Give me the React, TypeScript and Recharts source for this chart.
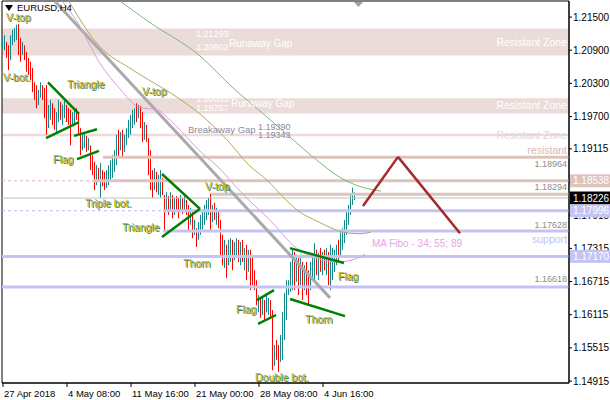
import {
  ComposedChart,
  Bar,
  Line,
  XAxis,
  YAxis,
  ReferenceArea,
  ReferenceLine,
  ReferenceDot,
} from "recharts";

// EURUSD H4 candles: one entry per bar, oldest first
const highs = [
  1.2112, 1.2117, 1.2105, 1.2099, 1.2117, 1.2127, 1.213, 1.2136, 1.2137, 1.2112,
  1.2105, 1.2099, 1.2087, 1.2076, 1.2069, 1.2058, 1.2032, 1.2027, 1.2018, 1.2032,
  1.2027, 1.2022, 1.2027, 1.1991, 1.2, 1.1994, 1.1985, 1.1978, 1.2, 1.1996,
  1.1991, 1.2, 1.1991, 1.1985, 1.1982, 1.1978, 1.1982, 1.1985, 1.1978, 1.1949,
  1.1937, 1.1942, 1.1935, 1.1931, 1.1918, 1.19, 1.1888, 1.1882, 1.1877, 1.1886,
  1.1873, 1.187, 1.1873, 1.1882, 1.1891, 1.19, 1.1909, 1.1937, 1.1946, 1.1942,
  1.1946, 1.1937, 1.1949, 1.1964, 1.1973, 1.1982, 1.1985, 1.1994, 1.1991, 1.1989,
  1.1978, 1.196, 1.1955, 1.1931, 1.1909, 1.1873, 1.1877, 1.187, 1.1864, 1.1873,
  1.1859, 1.1828, 1.1833, 1.1826, 1.1833, 1.1828, 1.1823, 1.1826, 1.1823, 1.1828,
  1.1823, 1.1826, 1.1819, 1.181, 1.1805, 1.1797, 1.1783, 1.1768, 1.1779, 1.1792,
  1.1801, 1.181, 1.1819, 1.1823, 1.183, 1.181, 1.1814, 1.1805, 1.1801, 1.1783,
  1.1756, 1.1747, 1.1738, 1.1747, 1.175, 1.1747, 1.1743, 1.175, 1.1747, 1.1743,
  1.1747, 1.1732, 1.1738, 1.1729, 1.1729, 1.1714, 1.1692, 1.1674, 1.1647, 1.1642,
  1.1645, 1.1638, 1.1647, 1.1642, 1.1638, 1.162, 1.1557, 1.1566, 1.1557, 1.1575,
  1.1616, 1.1651, 1.1674, 1.1674, 1.1707, 1.1729, 1.1725, 1.172, 1.1714, 1.172,
  1.1707, 1.1701, 1.1707, 1.1692, 1.1707, 1.172, 1.1741, 1.1729, 1.1723, 1.1732,
  1.1725, 1.1729, 1.1732, 1.1725, 1.1738, 1.1732, 1.1729, 1.1738, 1.1747, 1.1761,
  1.1768, 1.1783, 1.1797, 1.181, 1.1828, 1.1841, 1.1833,
];
const lows = [
  1.2094, 1.209, 1.2076, 1.2054, 1.2072, 1.2099, 1.2105, 1.2108, 1.2081, 1.2069,
  1.2081, 1.2072, 1.2051, 1.2045, 1.2036, 1.2014, 1.2, 1.1985, 1.1991, 1.2004,
  1.2, 1.1967, 1.1937, 1.1949, 1.1964, 1.1955, 1.1946, 1.1942, 1.196, 1.1964,
  1.1955, 1.1967, 1.196, 1.1955, 1.1918, 1.1953, 1.1957, 1.1964, 1.194, 1.19,
  1.1909, 1.1913, 1.1906, 1.1909, 1.1873, 1.1864, 1.1837, 1.1846, 1.1852, 1.1823,
  1.1844, 1.1837, 1.1841, 1.1846, 1.1852, 1.1859, 1.187, 1.1882, 1.1895, 1.1909,
  1.1895, 1.1906, 1.1918, 1.1931, 1.1937, 1.1949, 1.1955, 1.196, 1.1967, 1.1949,
  1.1924, 1.1928, 1.1924, 1.1864, 1.1837, 1.1823, 1.1837, 1.1833, 1.1828, 1.1823,
  1.1828, 1.1761, 1.1797, 1.1792, 1.1801, 1.1786, 1.1792, 1.1797, 1.1786, 1.1801,
  1.1794, 1.1797, 1.1792, 1.1761, 1.1774, 1.175, 1.1756, 1.1734, 1.1747, 1.1756,
  1.1765, 1.1774, 1.1783, 1.1792, 1.1761, 1.1779, 1.1783, 1.1774, 1.1768, 1.172,
  1.1701, 1.1696, 1.1678, 1.1701, 1.1707, 1.1692, 1.171, 1.1714, 1.1707, 1.1701,
  1.1707, 1.1692, 1.1674, 1.1689, 1.1656, 1.1665, 1.1656, 1.1629, 1.1616, 1.1606,
  1.1611, 1.1602, 1.1616, 1.1611, 1.1606, 1.1511, 1.1519, 1.153, 1.1508, 1.1526,
  1.153, 1.1566, 1.1602, 1.1647, 1.1653, 1.1656, 1.1656, 1.1671, 1.1647, 1.1665,
  1.1638, 1.1656, 1.1647, 1.1629, 1.1656, 1.1678, 1.1674, 1.1683, 1.1674, 1.1689,
  1.1683, 1.1692, 1.1683, 1.1665, 1.1656, 1.1674, 1.1689, 1.1701, 1.1707, 1.1718,
  1.1729, 1.1741, 1.1756, 1.1774, 1.1792, 1.181, 1.1819,
];
// u = bullish bar, d = bearish bar
const dirs =
  "uudduuuudd" + "uddddddduu" + "ddduudduud" + "uuddduuddd" + "uududddudu" +
  "dduuuuuudu" + "duuuuuudud" + "dudddduduu" + "ddudududdu" + "duddududuu" +
  "uuuudududd" + "duduuduudu" + "dududdddud" + "uduudduddu" + "uuuuuududu" +
  "dudduuudud" + "ududuuuudu" + "uuuuuuu";

// MA Fibo 34 / 55 / 89 (bar index, value)
const ma34Idx = [27, 38, 48, 58, 68, 77, 86, 98, 108, 119, 135, 146, 155, 167, 174, 181];
const ma34Val = [1.219, 1.2136, 1.2069, 1.2022, 1.1987, 1.1982, 1.1955, 1.1909, 1.1877, 1.1833, 1.1777, 1.1734, 1.1716, 1.1707, 1.171, 1.1721];
const ma55Idx = [32, 48, 65, 87, 98, 112, 123, 132, 141, 147, 158, 170, 178, 184];
const ma55Val = [1.2184, 1.2098, 1.2054, 1.2005, 1.1976, 1.1928, 1.1882, 1.1855, 1.1821, 1.1801, 1.1779, 1.1761, 1.1758, 1.1761];
const ma89Idx = [57, 73, 98, 115, 132, 145, 158, 168, 178, 189];
const ma89Val = [1.2183, 1.2141, 1.2081, 1.2022, 1.1969, 1.1928, 1.1888, 1.1861, 1.1844, 1.1835];

const xTickIdx = [0, 32, 64, 96, 128, 160];
const xTickText = ["27 Apr 2018", "4 May 08:00", "11 May 16:00", "21 May 00:00", "28 May 08:00", "4 Jun 16:00"];
const yTicks = [1.215, 1.209, 1.203, 1.197, 1.19115, 1.18515, 1.17915, 1.17315, 1.16715, 1.16115, 1.15515, 1.14915];

// gap zones [low, high]
const zones = [
  [1.20802, 1.21293],
  [1.19757, 1.20033],
  [1.19343, 1.1939],
];
const resistLevels = [1.18964, 1.18538, 1.18294];
const resistFrom = [50, 45, 104];
const supportLevels = [1.17996, 1.17628, 1.1717, 1.16618];
const supportFrom = [80, 80, -0.5, -0.5];
const lastPrice = 1.18226;
const tagPrices = [resistLevels[1], lastPrice, supportLevels[0], supportLevels[2]];

// pattern trend lines [i1, p1, i2, p2]
const patternLines = [
  [22.5, 1.2032, 38, 1.1975],
  [21.5, 1.1931, 38, 1.196],
  [35.5, 1.1935, 47, 1.1947],
  [37, 1.1893, 48, 1.1908],
  [79.5, 1.1866, 98.5, 1.1803],
  [79.5, 1.1752, 98.5, 1.1803],
  [127, 1.1638, 135.5, 1.1656],
  [127.5, 1.1595, 136.5, 1.1611],
  [143.5, 1.164, 171, 1.1609],
  [143.5, 1.1732, 170.5, 1.1705],
];
const trendLine = [26, 1.2178, 163.5, 1.1642];
const zigIdx = [180, 197.5, 228.5];
const zigVal = [1.1808, 1.1897, 1.1759];

const patternNames = ["V-top", "V-bot.", "Triangle", "V-top", "Flag", "Triple bot.", "V-top", "Triangle", "Thorn", "Flag", "Flag", "Thorn", "Double bot."];
const patternIdx = [1.5, 0, 32, 69.5, 25, 41, 101, 59.5, 90, 167.5, 116.5, 151, 126];
const patternAt = [1.2149, 1.2041, 1.2029, 1.2016, 1.1892, 1.1813, 1.1843, 1.177, 1.1705, 1.1681, 1.1622, 1.1604, 1.1499];

const X_MIN = -0.5;
const X_MAX = 283;
const Y_MIN = 1.1488;
const Y_MAX = 1.2179;
const PLOT_H = 382;
const PX = PLOT_H / (Y_MAX - Y_MIN);

const FONT = "'Liberation Sans', Arial, sans-serif";
const UP = "#12898a";
const DOWN = "#ff0000";
const ZONE = "#ebdcd9";
const RES = "#dcc4bd";
const SUP = "#c4c4f4";

const rows: any[] = [];
for (let i = 0; i <= 190; i++) {
  const row: any = { i };
  if (i < highs.length) {
    row.range = [lows[i], highs[i]];
    row.dir = dirs[i];
  }
  const a = ma34Idx.indexOf(i);
  if (a >= 0) row.ma34 = ma34Val[a];
  const b = ma55Idx.indexOf(i);
  if (b >= 0) row.ma55 = ma55Val[b];
  const c = ma89Idx.indexOf(i);
  if (c >= 0) row.ma89 = ma89Val[c];
  rows.push(row);
}

const Candle = (props: any) => {
  const { x, y, width, height, payload } = props;
  if (!payload || !payload.range) return null;
  const cx = Math.floor(x + width / 2) + 0.5;
  const top = Math.min(y, y + height);
  const len = Math.max(1, Math.abs(height));
  return (
    <line x1={cx} x2={cx} y1={top} y2={top + len} stroke={payload.dir === "u" ? UP : DOWN} strokeWidth={1} />
  );
};

// scale labels; the part hidden behind a price tag is clipped away
const PriceTick = ({ x, y, payload }: any) => {
  const v = payload.value;
  let lo = y - 8;
  let hi = y + 8;
  for (const t of tagPrices) {
    const ty = y + (v - t) * PX;
    const top = ty - 6.5;
    const bot = ty + 6.5;
    if (bot <= y - 6 || top >= y + 6) continue;
    if (ty <= y) lo = Math.max(lo, bot);
    else hi = Math.min(hi, top);
  }
  if (hi - lo < 1) return null;
  const id = `yt${Math.round(v * 100000)}`;
  return (
    <g>
      <clipPath id={id}>
        <rect x={x - 2} y={lo} width={44} height={hi - lo} />
      </clipPath>
      <text x={x} y={y} dy={3.5} textAnchor="start" fontSize={10} fontFamily={FONT} fill="#000" clipPath={`url(#${id})`}>
        {v.toFixed(5)}
      </text>
    </g>
  );
};

const TimeTick = ({ x, y, payload }: any) => {
  const k = xTickIdx.indexOf(payload.value);
  return (
    <text x={x + 1} y={y + 10} textAnchor="start" fontSize={9.5} fontFamily={FONT} fill="#000">
      {xTickText[k]}
    </text>
  );
};

// text anchored at a chart coordinate
const note = (text: string, color: string, size: number, anchor: "start" | "end", dx = 0) =>
  (p: any) => (
    <text x={p.cx + dx} y={p.cy} dy="0.35em" textAnchor={anchor} fontSize={size} fontFamily={FONT} fill={color}>
      {text}
    </text>
  );

const patternLabel = (text: string) => (p: any) => (
  <g fontSize={10.5} fontFamily={FONT}>
    <text x={p.cx + 1} y={p.cy + 1} dy="0.35em" fill="#2f7f70">{text}</text>
    <text x={p.cx} y={p.cy} dy="0.35em" fill="#ccb000">{text}</text>
  </g>
);

const priceTag = (value: number, bg: string) => (p: any) => (
  <g>
    <rect x={p.cx + 1} y={p.cy - 6.5} width={41} height={13} fill={bg} />
    <text x={p.cx + 4} y={p.cy} dy="0.35em" fontSize={10} fontFamily={FONT} fill="#fff">
      {value.toFixed(5)}
    </text>
  </g>
);

export default function App() {
  return (
    <div style={{ width: 610, height: 400, background: "#fff" }}>
      <style>{"body{margin:0}"}</style>
      <ComposedChart width={610} height={400} data={rows} margin={{ top: 1, right: 0, bottom: 0, left: 2 }}>
        <XAxis
          dataKey="i"
          type="number"
          domain={[X_MIN, X_MAX]}
          allowDataOverflow
          ticks={xTickIdx}
          interval={0}
          tick={<TimeTick />}
          tickSize={4}
          tickMargin={0}
          height={17}
          stroke="#000"
        />
        <YAxis
          orientation="right"
          type="number"
          domain={[Y_MIN, Y_MAX]}
          allowDataOverflow
          ticks={yTicks}
          interval={0}
          tick={<PriceTick />}
          tickSize={3}
          tickMargin={1}
          width={41}
          stroke="#000"
        />

        {zones.map(([lo, hi], k) => (
          <ReferenceArea key={`z${k}`} x1={X_MIN} x2={X_MAX} y1={lo} y2={hi} fill={ZONE} fillOpacity={1} stroke="none" ifOverflow="visible" />
        ))}

        <ReferenceLine y={lastPrice} stroke="#c0c0c0" strokeWidth={1} />
        <ReferenceLine segment={[{ x: X_MIN, y: resistLevels[1] }, { x: resistFrom[1], y: resistLevels[1] }]} stroke="#e2b8b0" strokeDasharray="3 3" ifOverflow="visible" />
        <ReferenceLine segment={[{ x: X_MIN, y: supportLevels[0] }, { x: supportFrom[0], y: supportLevels[0] }]} stroke="#b8b8f0" strokeDasharray="3 3" ifOverflow="visible" />
        {resistLevels.map((lv, k) => (
          <ReferenceLine key={`r${k}`} segment={[{ x: resistFrom[k], y: lv }, { x: X_MAX, y: lv }]} stroke={RES} strokeWidth={3} ifOverflow="visible" />
        ))}
        {supportLevels.map((lv, k) => (
          <ReferenceLine key={`s${k}`} segment={[{ x: supportFrom[k], y: lv }, { x: X_MAX, y: lv }]} stroke={SUP} strokeWidth={3} ifOverflow="visible" />
        ))}

        <ReferenceLine
          segment={[{ x: trendLine[0], y: trendLine[1] }, { x: trendLine[2], y: trendLine[3] }]}
          stroke="#a9a9a9"
          strokeWidth={3}
          ifOverflow="visible"
        />

        <Line dataKey="ma89" stroke="#80b680" strokeWidth={1} dot={false} type="monotone" connectNulls isAnimationActive={false} />
        <Line dataKey="ma55" stroke="#b4aa58" strokeWidth={1} dot={false} type="monotone" connectNulls isAnimationActive={false} />
        <Line dataKey="ma34" stroke="#dc9cdc" strokeWidth={1} dot={false} type="monotone" connectNulls isAnimationActive={false} />

        <Bar dataKey="range" barSize={1} shape={<Candle />} isAnimationActive={false} />

        {patternLines.map(([a, p, b, q], k) => (
          <ReferenceLine key={`p${k}`} segment={[{ x: a, y: p }, { x: b, y: q }]} stroke="#008000" strokeWidth={2.5} ifOverflow="visible" />
        ))}
        {zigIdx.slice(1).map((ix, k) => (
          <ReferenceLine
            key={`zz${k}`}
            segment={[{ x: zigIdx[k], y: zigVal[k] }, { x: ix, y: zigVal[k + 1] }]}
            stroke="#a52a2a"
            strokeWidth={2.5}
            ifOverflow="visible"
          />
        ))}

        {/* gap captions */}
        <ReferenceDot x={96.5} y={1.2119} ifOverflow="visible" shape={note("1.21293", "#fff", 9, "start")} />
        <ReferenceDot x={96.5} y={1.2096} ifOverflow="visible" shape={note("1.20802", "#fff", 9, "start")} />
        <ReferenceDot x={113} y={1.2103} ifOverflow="visible" shape={note("Runaway Gap", "#fff", 10, "start")} />
        <ReferenceDot x={96.5} y={1.2002} ifOverflow="visible" shape={note("1.20033", "#fff", 9, "start")} />
        <ReferenceDot x={96.5} y={1.1985} ifOverflow="visible" shape={note("1.19757", "#fff", 9, "start")} />
        <ReferenceDot x={114} y={1.1993} ifOverflow="visible" shape={note("Runaway Gap", "#fff", 10, "start")} />
        <ReferenceDot x={92.5} y={1.1946} ifOverflow="visible" shape={note("Breakaway Gap", "#8a8aa0", 9.5, "start")} />
        <ReferenceDot x={127.5} y={1.1952} ifOverflow="visible" shape={note("1.19390", "#8a8aa0", 9, "start")} />
        <ReferenceDot x={127.5} y={1.1937} ifOverflow="visible" shape={note("1.19343", "#8a8aa0", 9, "start")} />
        {zones.map(([lo, hi], k) => (
          <ReferenceDot
            key={`zl${k}`}
            x={X_MAX}
            y={(lo + hi) / 2}
            ifOverflow="visible"
            shape={note("Resistant Zone", k < 2 ? "#fff" : "#dcd4e4", 10.5, "end", -2)}
          />
        ))}

        {/* level captions */}
        <ReferenceDot x={X_MAX} y={1.1909} ifOverflow="visible" shape={note("resistant", "#d6b8b0", 10.5, "end", -2)} />
        <ReferenceDot x={X_MAX} y={1.1885} ifOverflow="visible" shape={note("1.18964", "#8c8c8c", 9, "end", -2)} />
        <ReferenceDot x={X_MAX} y={1.1843} ifOverflow="visible" shape={note("1.18294", "#8c8c8c", 9, "end", -2)} />
        <ReferenceDot x={X_MAX} y={1.1774} ifOverflow="visible" shape={note("1.17628", "#8c8c8c", 9, "end", -2)} />
        <ReferenceDot x={X_MAX} y={1.1748} ifOverflow="visible" shape={note("support", "#c2c2f2", 10.5, "end", -2)} />
        <ReferenceDot x={X_MAX} y={1.1676} ifOverflow="visible" shape={note("1.16618", "#8c8c8c", 9, "end", -2)} />
        <ReferenceDot x={184.5} y={1.1741} ifOverflow="visible" shape={note("MA Fibo - 34; 55; 89", "#e4a6e4", 10, "start")} />

        {patternNames.map((t, k) => (
          <ReferenceDot key={`n${k}`} x={patternIdx[k]} y={patternAt[k]} ifOverflow="visible" shape={patternLabel(t)} />
        ))}

        {/* price tags on the scale */}
        <ReferenceDot x={X_MAX} y={resistLevels[1]} ifOverflow="visible" shape={priceTag(resistLevels[1], RES)} />
        <ReferenceDot x={X_MAX} y={lastPrice} ifOverflow="visible" shape={priceTag(lastPrice, "#000")} />
        <ReferenceDot x={X_MAX} y={supportLevels[0]} ifOverflow="visible" shape={priceTag(supportLevels[0], SUP)} />
        <ReferenceDot x={X_MAX} y={supportLevels[2]} ifOverflow="visible" shape={priceTag(supportLevels[2], SUP)} />

        {/* chart shift marker and symbol caption */}
        <ReferenceDot
          x={177.5}
          y={Y_MAX}
          ifOverflow="visible"
          shape={(p: any) => (
            <polygon points={`${p.cx - 4},${p.cy + 1} ${p.cx + 5},${p.cy + 1} ${p.cx + 0.5},${p.cy + 6}`} fill="#a0a0a0" />
          )}
        />
        <ReferenceDot
          x={X_MIN}
          y={Y_MAX}
          ifOverflow="visible"
          shape={(p: any) => (
            <g>
              <polygon points={`${p.cx + 3},${p.cy + 4} ${p.cx + 11},${p.cy + 4} ${p.cx + 7},${p.cy + 10}`} fill="#000" />
              <text x={p.cx + 15} y={p.cy + 7} dy="0.35em" fontSize={9.5} fontFamily={FONT} fill="#000">
                EURUSD,H4
              </text>
            </g>
          )}
        />

        <ReferenceArea x1={X_MIN} x2={X_MAX} y1={Y_MIN} y2={Y_MAX} fill="none" stroke="#000" ifOverflow="visible" />
      </ComposedChart>
    </div>
  );
}
